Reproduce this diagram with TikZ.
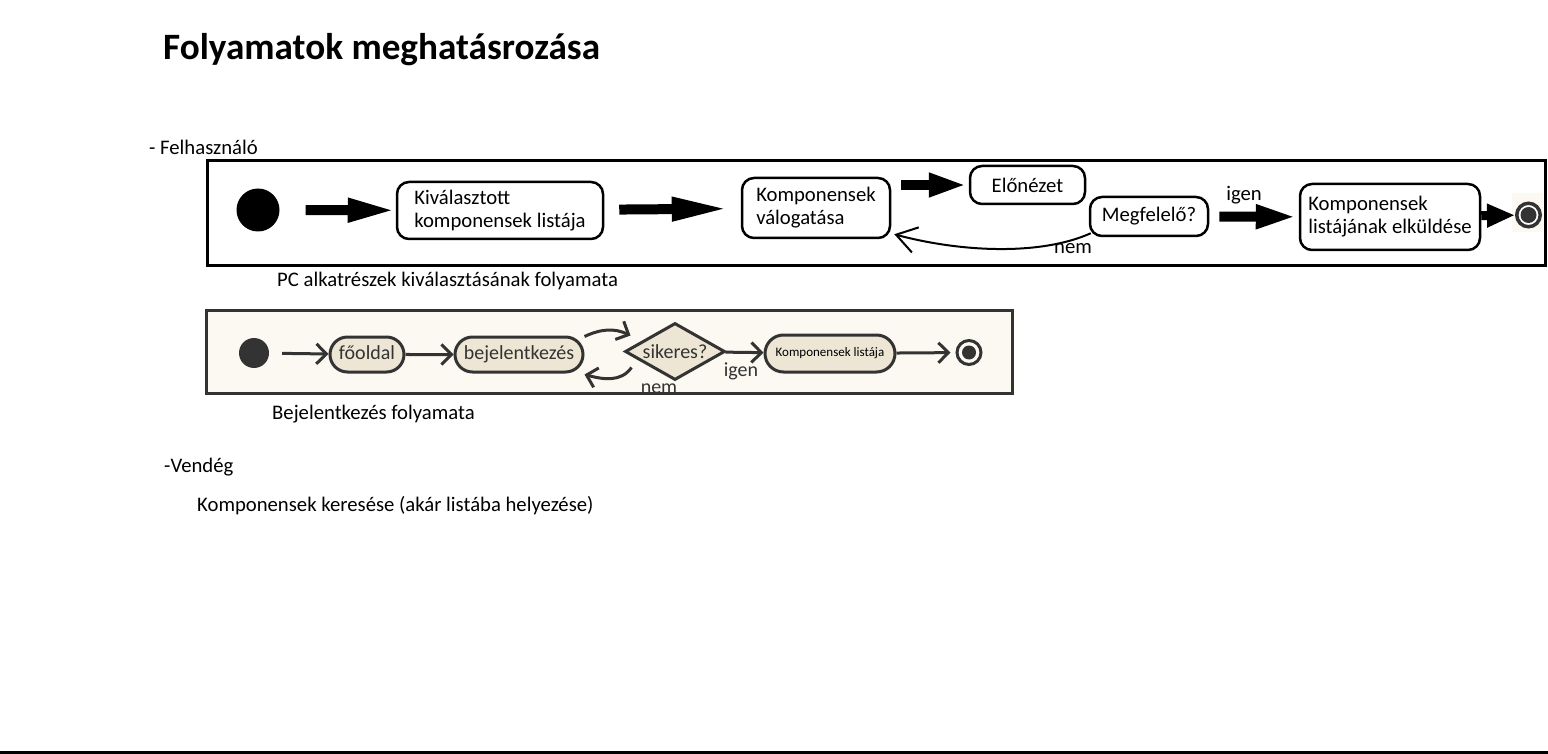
\documentclass[tikz,border=0pt]{standalone}
\usepackage{fontspec}
\setmainfont{Carlito}
\usetikzlibrary{arrows.meta,shapes.geometric,shapes.misc}
\definecolor{ink}{HTML}{333333}
\definecolor{cream}{HTML}{FBF9F1}
\definecolor{sand}{HTML}{EDE6D5}
\begin{document}
\begin{tikzpicture}[x=1pt, y=-1pt,
    every node/.style={font=\fontsize{20.7}{23}\selectfont},
    actbox/.style={draw, line width=2.5pt, rounded corners=12pt, fill=white, align=left, inner sep=0pt},
    bigarrow/.style={line width=10pt, -{Triangle[length=#1,width=22pt]}},
    bigarrow/.default=45pt,
    pill/.style={draw=ink, line width=3pt, fill=sand, rounded rectangle, inner sep=0pt, minimum height=35pt, text height=14pt, text depth=4pt, text=ink, font=\fontsize{20}{22}\selectfont},
    flow/.style={draw=ink, line width=3pt, -{Straight Barb[length=10pt,width=20pt]}}]
    \useasboundingbox (0,0) rectangle (1548,754);
    \node[anchor=base west, inner sep=0pt, font=\bfseries\fontsize{37.2}{40}\selectfont] (cim) at (163,60) {Folyamatok meghatásrozása};
    \node[anchor=base west, inner sep=0pt] (felh) at (149,155) {- Felhasználó};
    % PC alkatreszek
    \draw[line width=3pt] (207,161) rectangle (1545,266);
    \node[circle, fill, minimum size=43pt, inner sep=0pt] (start) at (258,210) {};
    \node[actbox, minimum width=206pt, minimum height=57pt] (kiv) at (500,210.5) {Kiválasztott\\komponensek listája};
    \node[actbox, minimum width=148pt, minimum height=60pt] (valog) at (816,208) {Komponensek\\válogatása};
    \node[actbox, minimum width=115pt, minimum height=38pt] (elo) at (1027.5,185) {Előnézet};
    \node[actbox, minimum width=118pt, minimum height=39pt] (megf) at (1149,216.5) {Megfelelő?};
    \node[actbox, minimum width=180pt, minimum height=66pt] (kuld) at (1390,217) {Komponensek\\listájának elküldése};
    \fill[cream] (1512,193) rectangle (1543,232);
    \node[circle, draw=ink, line width=3.5pt, fill=white, minimum size=23.5pt, inner sep=0pt] (vege) at (1528.5,215) {};
    \fill[ink] (vege) circle (8pt);
    \draw[bigarrow=48pt, shorten <=26pt] (start) -- (kiv);
    \draw[bigarrow=57pt, shorten <=15pt, shorten >=12pt] (kiv) -- (valog);
    \draw[bigarrow=38pt, shorten <=10pt, shorten >=2pt] (valog.east |- elo) -- (elo.west);
    \draw[bigarrow=41pt, shorten <=10pt, shorten >=2pt] (megf) -- (kuld);
    \draw[bigarrow=28pt, line width=9pt] (kuld) -- (vege);
    \draw[line width=2pt, -{Straight Barb[length=20pt,width=26pt]}] ([xshift=2pt,yshift=4pt]megf.south west) .. controls (1040,256) and (960,252) .. ([xshift=3pt,yshift=5pt]valog.south east);
    \node (igen1) at (1244,195) {igen};
    \node (nem1) at (1073,249) {nem};
    \node[anchor=base west, inner sep=0pt] (cap1) at (277,287) {PC alkatrészek kiválasztásának folyamata};
    % bejelentkezes
    \fill[cream] (206,310) rectangle (1012,393);
    \node[circle, fill=ink, minimum size=30pt, inner sep=0pt] (start2) at (254,353) {};
    \node[pill, minimum width=74pt] (fooldal) at (367,354.5) {főoldal};
    \node[pill, minimum width=128pt] (bej) at (519,354.5) {bejelentkezés};
    \node[diamond, aspect=1.75, draw=ink, line width=3pt, fill=sand, minimum width=100pt, minimum height=57pt, inner sep=0pt, text=ink, font=\fontsize{20}{22}\selectfont] (sik) at (675,351.5) {sikeres?};
    \node[pill, minimum width=130pt, minimum height=37pt, text height=9pt, text depth=3pt, font=\fontsize{13}{15}\selectfont, text=black] (klista) at (830,353.5) {Komponensek listája};
    \node[circle, draw=ink, line width=3pt, fill=cream, minimum size=24pt, inner sep=0pt] (vege2) at (969,352.5) {};
    \fill[ink] (vege2) circle (7pt);
    \draw[flow, shorten <=13pt] (start2) -- (fooldal);
    \draw[flow] (fooldal) -- (bej);
    \draw[flow] ([yshift=18pt]bej.east) to[out=25, in=155] ([xshift=7pt,yshift=16pt]sik.west);
    \draw[flow] ([xshift=8pt,yshift=-16pt]sik.west) to[out=235, in=-15] ([yshift=-20pt]bej.east);
    \draw[flow] (sik) -- (klista);
    \draw[flow, shorten >=5pt] (klista) -- (vege2);
    \node[text=ink, font=\fontsize{20}{22}\selectfont] (igen2) at (741,371) {igen};
    \node[text=ink, anchor=base, font=\fontsize{20}{22}\selectfont] (nem2) at (659,393) {nem};
    \draw[ink, line width=3pt] (206,310) rectangle (1012,393);
    \node[anchor=base west, inner sep=0pt] (cap2) at (272,419) {Bejelentkezés folyamata};
    % vendeg
    \node[anchor=base west, inner sep=0pt] (vendeg) at (164,472) {-Vendég};
    \node[anchor=base west, inner sep=0pt] (kereses) at (197,511) {Komponensek keresése (akár listába helyezése)};
    \draw[line width=3pt] (0,752.5) -- (1548,752.5);
\end{tikzpicture}
\end{document}
